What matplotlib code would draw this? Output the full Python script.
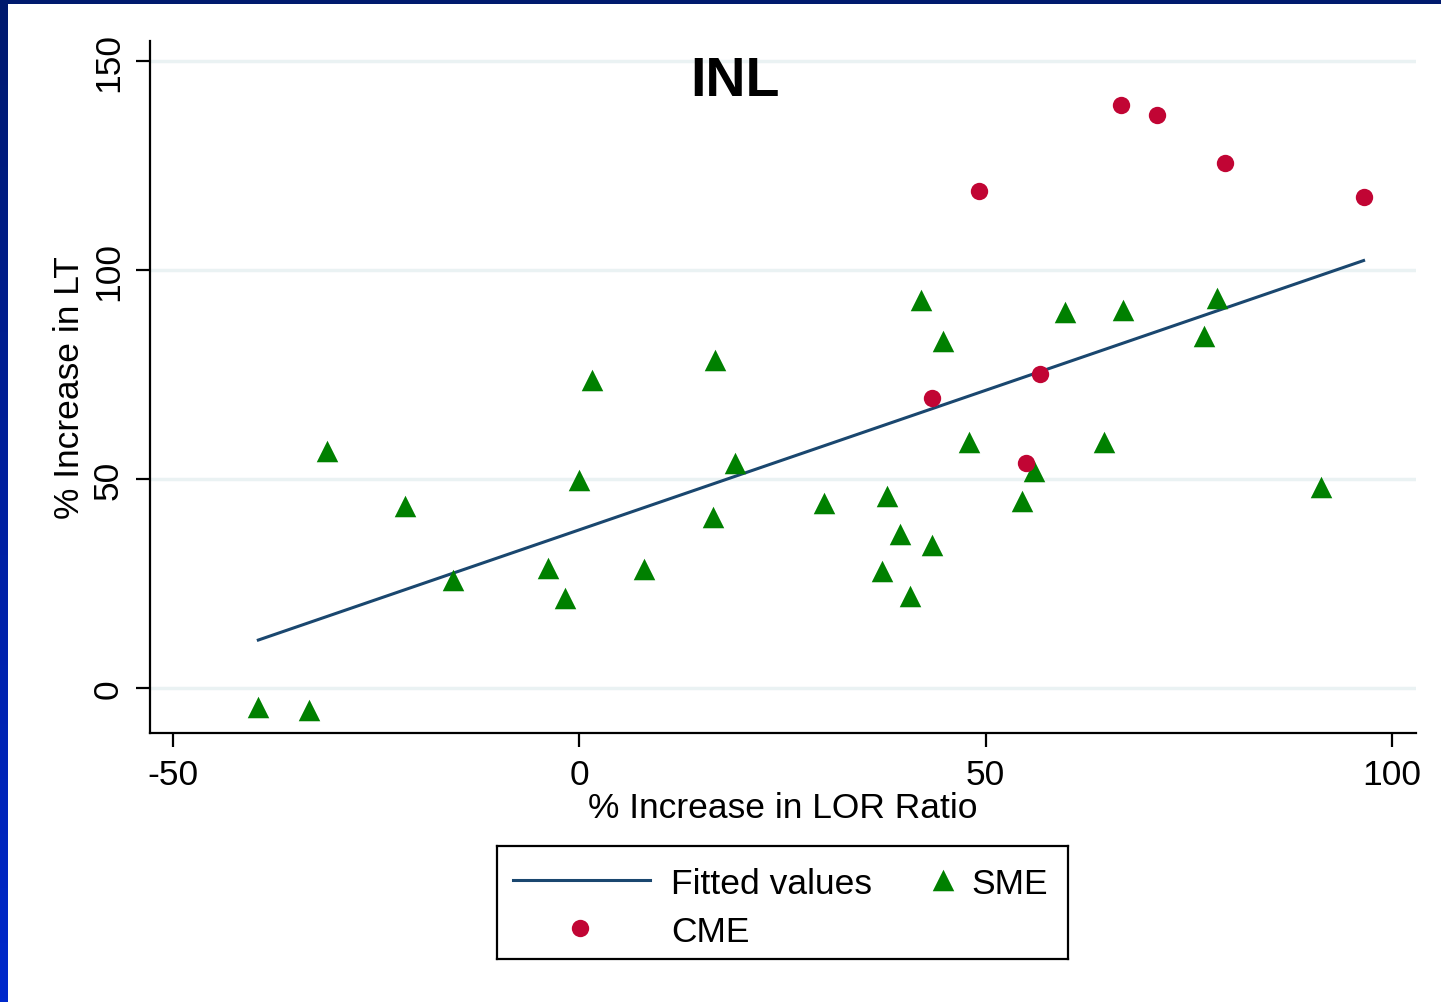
"""Scatter of LT increase vs LOR ratio increase for INL, with linear fit."""
import matplotlib
matplotlib.use("Agg")
import matplotlib.pyplot as plt
import numpy as np
from matplotlib.colors import LinearSegmentedColormap
from matplotlib.patches import Rectangle

plt.rcParams["font.family"] = ["Liberation Sans", "DejaVu Sans"]
plt.rcParams["axes.unicode_minus"] = False

# % increase in LOR ratio (x) and % increase in LT (y)
sme_x = [-39.5, -33.3, -31.0, -21.4, -15.6, -3.9, -1.8, 0.0, 1.6, 7.9,
         16.4, 16.7, 19.1, 30.1, 37.2, 37.9, 39.4, 40.7, 42.1, 43.4,
         44.8, 47.9, 54.5, 56.0, 59.7, 64.6, 66.9, 76.9, 78.5, 91.2]
sme_y = [-4.5, -5.3, 56.7, 43.5, 25.8, 28.7, 21.5, 49.8, 73.7, 28.5,
         40.9, 78.5, 53.8, 44.3, 28.0, 45.9, 36.8, 22.0, 92.8, 34.2,
         83.0, 58.9, 44.7, 51.9, 90.0, 58.9, 90.4, 84.2, 93.3, 48.1]
cme_x = [43.4, 49.2, 54.9, 56.7, 66.6, 71.1, 79.4, 96.5]
cme_y = [69.4, 118.9, 53.8, 75.1, 139.5, 137.1, 125.6, 117.5]

xticks = [-50, 0, 50, 100]
yticks = [0, 50, 100, 150]

NAVY = "#1a476f"
GREEN = "#008000"
CRANBERRY = "#c10534"
GRID = "#eaf2f3"
FS = 25.5

fit_style = dict(color=NAVY, lw=2.2)
sme_style = dict(marker="^", s=15.5 ** 2, color=GREEN, lw=0)
cme_style = dict(marker="o", s=12.5 ** 2, color=CRANBERRY, lw=0)

# fitted line over the pooled sample
all_x = np.array(sme_x + cme_x)
all_y = np.array(sme_y + cme_y)
slope, icept = np.polyfit(all_x, all_y, 1)
fit_x = np.array([all_x.min(), all_x.max()])
fit_y = icept + slope * fit_x

W, H = 1441, 1003
fig = plt.figure(figsize=(W / 100, H / 100), dpi=100)

# slide frame: dark top band, blue gradient down the left edge
fig.add_artist(Rectangle((0, 1 - 5 / H), 1, 5 / H, transform=fig.transFigure,
                         color="#001a6e", lw=0, zorder=10))
edge = fig.add_axes([0, 0, 8 / W, 1], zorder=10)
cmap = LinearSegmentedColormap.from_list("edge", ["#001a6e", "#0020a0", "#0029cc"])
edge.imshow(np.linspace(0, 1, 256)[:, None], aspect="auto", cmap=cmap)
edge.axis("off")

ax = fig.add_axes([150 / W, 269 / H, 1266 / W, 692 / H])

ax.plot(fit_x, fit_y, zorder=3, **fit_style)
ax.scatter(sme_x, sme_y, zorder=4, **sme_style)
ax.scatter(cme_x, cme_y, zorder=4, **cme_style)

ax.set_xlim(-52.83, 102.95)
ax.set_ylim(-10.77, 154.8)
ax.set_xticks(xticks)
ax.set_yticks(yticks)
ax.grid(axis="y", color=GRID, lw=2.5)
ax.set_axisbelow(True)

for side in ("top", "right"):
    ax.spines[side].set_visible(False)
for side in ("left", "bottom"):
    ax.spines[side].set_linewidth(1.6)
ax.tick_params(axis="both", length=10, width=1.6, labelsize=FS, pad=8)
for lbl in ax.get_yticklabels():
    lbl.set_rotation(90)
    lbl.set_va("center")

ax.set_xlabel("% Increase in LOR Ratio", fontsize=FS, labelpad=0)
ax.set_ylabel("% Increase in LT", fontsize=FS, labelpad=4)

ax.text(0.462, 0.942, "INL", transform=ax.transAxes, fontsize=40,
        fontweight="bold", ha="center", va="center")

# legend box laid out in its own small axes (pixel units, y down)
lg = fig.add_axes([497 / W, (H - 960) / H, 571 / W, 113 / H])
lg.set_xlim(0, 571)
lg.set_ylim(113, 0)
lg.set_xticks([])
lg.set_yticks([])
for sp in lg.spines.values():
    sp.set_linewidth(1.6)
lg.plot([16, 153], [34, 34], **fit_style)
lg.text(174, 34, "Fitted values", fontsize=FS, va="center_baseline")
lg.scatter([446], [34], **sme_style)
lg.text(474, 34, "SME", fontsize=FS, va="center_baseline")
lg.scatter([83], [82], **cme_style)
lg.text(174, 82, "CME", fontsize=FS, va="center_baseline")

fig.savefig("out.png", dpi=100)
